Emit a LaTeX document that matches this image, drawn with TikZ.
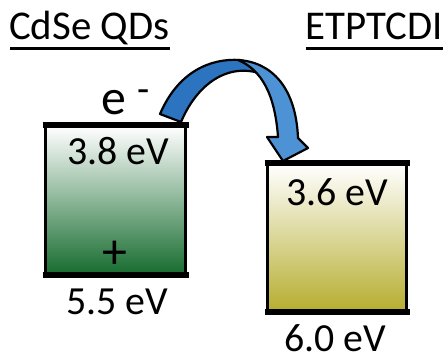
\documentclass[tikz,border=0pt]{standalone}
\usepackage{fontspec}
\setmainfont{Carlito}
\usetikzlibrary{calc}
\definecolor{qdgreen}{RGB}{24,108,48}
\definecolor{qdmid}{RGB}{125,170,135}
\definecolor{olive}{RGB}{182,174,48}
\definecolor{olivemid}{RGB}{212,206,138}
\definecolor{arrowdark}{RGB}{44,116,192}
\definecolor{arrowlight}{RGB}{76,146,212}
\begin{document}
\begin{tikzpicture}[x=1bp,y=-1bp,
  level/.style={draw=black,line width=3bp,minimum width=140bp,minimum height=147bp,inner sep=0pt},
  edgebar/.style={line width=5.5bp},
  title/.style={inner sep=0pt,font=\fontsize{41}{46}\selectfont},
  value/.style={inner sep=0pt,anchor=base,font=\fontsize{40}{46}\selectfont},
  uline/.style={line width=3bp},
  ribbon/.style={draw=black,line width=2.2bp,line join=round}]
\useasboundingbox (0,0) rectangle (444,352);

% titles
\node[title,anchor=base west] (tqd) at (9,39) {CdSe QDs};
\node[title,anchor=base east] (tet) at (443,39) {ETPTCDI};
\draw[uline] ($(tqd.base west)+(1,9)$) -- ($(tqd.base east)+(0,9)$);
\draw[uline] ($(tet.base west)+(0,9)$) -- ($(tet.base east)+(0,9)$);

% energy levels
\node[level,top color=white,middle color=qdmid,bottom color=qdgreen] (lb) at (115.5,200) {};
\node[level,minimum width=139bp,minimum height=146bp,top color=white,middle color=olivemid,bottom color=olive] (rb) at (337,237.5) {};
\draw[edgebar] ([xshift=-1.5bp]lb.north west) -- ([xshift=1.5bp]lb.north east);
\draw[edgebar] ([xshift=-1.5bp]lb.south west) -- ([xshift=1.5bp]lb.south east);
\draw[edgebar] ([xshift=-1.5bp]rb.north west) -- ([xshift=1.5bp]rb.north east);
\draw[edgebar] ([xshift=-1.5bp]rb.south west) -- ([xshift=1.5bp]rb.south east);

% level values
\node[value] (lumo1) at (118,164) {3.8 eV};
\node[value] (homo1) at (117,314) {5.5 eV};
\node[value] (lumo2) at (337,205) {3.6 eV};
\node[value] (homo2) at (335,351) {6.0 eV};

% charges
\node[inner sep=0pt,anchor=base west,font=\fontsize{50}{54}\selectfont] (el) at (101,114)
  {e\kern12bp\raisebox{12bp}{\fontsize{40}{40}\selectfont -}};
\node[inner sep=0pt,anchor=base,font=\fontsize{50}{54}\selectfont] (hole) at (114.5,268) {+};

% twisted transfer arrow
\filldraw[ribbon,fill=arrowdark] (160,114) .. controls (178,72) and (210,58) .. (240,60)
  -- (254,64) -- (262,74) .. controls (228,62) and (197,84) .. (181,122) -- cycle;
\filldraw[ribbon,fill=arrowlight] (238,60) .. controls (272,62) and (296,88) .. (298,138)
  -- (308,148) -- (283,161) -- (267,137) -- (278,137)
  .. controls (275,95) and (262,70) .. (238,60) -- cycle;
\end{tikzpicture}
\end{document}
